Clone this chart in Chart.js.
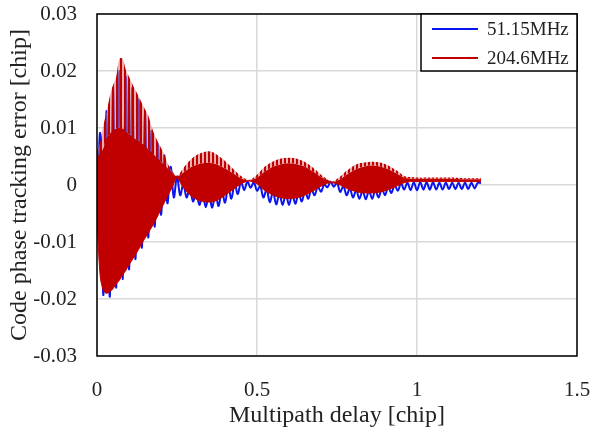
<!DOCTYPE html>
<html>
<head>
<meta charset="utf-8">
<script src="https://cdn.jsdelivr.net/npm/chart.js@4.4.1/dist/chart.umd.min.js"></script>
<style>
  html, body { margin: 0; padding: 0; background: #fff; }
  #wrap { width: 595px; height: 430px; }
</style>
</head>
<body>
<div id="wrap"><canvas id="errChart"></canvas></div>
<script>
// tick labels
const xTicks = [0, 0.5, 1, 1.5];
const yTicks = [-0.03, -0.02, -0.01, 0, 0.01, 0.02, 0.03];

// 51.15MHz: one value every 0.01 chip (troughs / peaks of the wiggle)
const blueStep = 0.01;
const blueY = [
  -0.006, 0.009, -0.0193, 0.013, -0.0196, 0.017, -0.018, 0.02, -0.0165, 0.019,
  -0.0148, 0.017, -0.013, 0.015, -0.011, 0.0125, -0.0092, 0.0095, -0.0073, 0.0072,
  -0.0052, 0.0052, -0.0032, 0.0032, -0.0022, 0.0015, -0.0018, 0.0002, -0.0022, -0.0005,
  -0.0029, -0.0012, -0.0035, -0.0015, -0.0039, -0.0016, -0.004, -0.0014, -0.0037, -0.0009,
  -0.0031, -0.0003, -0.0024, 0.0003, -0.0016, 0.0006, -0.0009, 0.0006, -0.0005, 0.0005,
  -0.001, -0.0002, -0.0022, -0.0008, -0.003, -0.0012, -0.0034, -0.0015, -0.0035, -0.0016,
  -0.0035, -0.0016, -0.0033, -0.0014, -0.0029, -0.001, -0.0024, -0.0007, -0.0018, -0.0003,
  -0.0012, 0.0001, -0.0004, 0.0006, -0.0003, 0.0004, -0.0012, -0.0002, -0.0018, -0.0006,
  -0.0022, -0.0009, -0.0024, -0.001, -0.0025, -0.001, -0.0024, -0.0009, -0.0022, -0.0006,
  -0.0018, -0.0003, -0.0014, 0.0, -0.001, 0.0003, -0.0008, 0.0004, -0.0009, 0.0005,
  -0.0009, 0.0005, -0.0008, 0.0005, -0.0008, 0.0005, -0.0008, 0.0004, -0.0008, 0.0004,
  -0.0007, 0.0004, -0.0007, 0.0004, -0.0007, 0.0004, -0.0007, 0.0004, -0.0006, 0.0004,
  0.0003
];

// 204.6MHz: too dense to trace, so kept as its envelope
const redX = [
  0, 0.01, 0.02, 0.03, 0.045, 0.06, 0.07, 0.08, 0.09, 0.1, 0.115, 0.13, 0.145, 0.16, 0.175, 0.19, 0.205, 0.22, 0.235, 0.25,
  0.27, 0.29, 0.31, 0.33, 0.35, 0.37, 0.39, 0.41, 0.43, 0.45, 0.475,
  0.5, 0.52, 0.54, 0.56, 0.58, 0.6, 0.62, 0.64, 0.66, 0.68, 0.7, 0.72, 0.735,
  0.76, 0.78, 0.8, 0.82, 0.84, 0.86, 0.88, 0.9, 0.92, 0.94, 0.96, 0.98, 1.0,
  1.05, 1.1, 1.15, 1.2
];
const redTop = [   // tips of the spikes
  0.006, 0.0075, 0.0105, 0.0128, 0.0167, 0.019, 0.0222, 0.0222, 0.0202, 0.019, 0.0172, 0.0156, 0.0138, 0.0122, 0.0095, 0.0076, 0.006, 0.0039, 0.0024, 0.0016,
  0.003, 0.0043, 0.0052, 0.0057, 0.0059, 0.0055, 0.0047, 0.0037, 0.0026, 0.0016, 0.0009,
  0.0018, 0.003, 0.0038, 0.0044, 0.0047, 0.0048, 0.0047, 0.0043, 0.0037, 0.0028, 0.0018, 0.001, 0.0006,
  0.0015, 0.0025, 0.0033, 0.0038, 0.004, 0.0041, 0.004, 0.0037, 0.0031, 0.0024, 0.0016, 0.0014, 0.0013,
  0.0013, 0.0013, 0.0012, 0.0012
];
const redInner = [ // top of the solid part
  0.005, 0.0055, 0.0065, 0.0082, 0.0093, 0.0099, 0.01, 0.0099, 0.0094, 0.0089, 0.0083, 0.0077, 0.0071, 0.0063, 0.0055, 0.0047, 0.0038, 0.003, 0.0022, 0.0015,
  0.0022, 0.003, 0.0035, 0.0038, 0.0039, 0.0037, 0.0032, 0.0026, 0.0019, 0.0012, 0.0008,
  0.0013, 0.0022, 0.0029, 0.0034, 0.0037, 0.0038, 0.0037, 0.0034, 0.0029, 0.0022, 0.0014, 0.0009, 0.0005,
  0.001, 0.0018, 0.0025, 0.003, 0.0033, 0.0034, 0.0033, 0.003, 0.0025, 0.0019, 0.0013, 0.0011, 0.0011,
  0.0011, 0.0011, 0.001, 0.001
];
const redBottom = [
  -0.006, -0.016, -0.0185, -0.019, -0.0185, -0.0174, -0.0167, -0.0158, -0.015, -0.014, -0.0127, -0.0113, -0.0098, -0.0084, -0.007, -0.0054, -0.0037, -0.002, -0.0004, 0.0012,
  -0.0005, -0.0017, -0.0025, -0.0029, -0.003, -0.0028, -0.0022, -0.0014, -0.0006, 0.0002, 0.0007,
  0.0002, -0.0008, -0.0015, -0.002, -0.0023, -0.0024, -0.0023, -0.002, -0.0015, -0.0009, -0.0002, 0.0003, 0.0004,
  0.0, -0.0006, -0.001, -0.0013, -0.0014, -0.0014, -0.0013, -0.001, -0.0006, -0.0001, 0.0004, 0.0006, 0.0006,
  0.0006, 0.0006, 0.0006, 0.0006
];

const BLUE = '#0a14f0';
const RED = '#c00000';
const FONT = "'Liberation Serif', 'Times New Roman', serif";

const pts = (xs, ys) => ys.map((y, i) => ({ x: xs[i], y }));

// thin vertical stripes for the spiky band
function stripes() {
  const c = document.createElement('canvas');
  c.width = 4; c.height = 1;
  const g = c.getContext('2d');
  g.fillStyle = 'rgba(215,110,110,0.55)';
  g.fillRect(0, 0, 4, 1);
  g.fillStyle = RED;
  g.fillRect(0, 0, 2, 1);
  return g.createPattern(c, 'repeat');
}

const legendItems = [
  { text: '51.15MHz', color: BLUE },
  { text: '204.6MHz', color: RED }
];

// plot frame + legend box in the top right corner
const framePlugin = {
  id: 'frame',
  afterDraw(chart) {
    const { ctx, chartArea: a } = chart;
    ctx.save();
    ctx.strokeStyle = '#000';
    ctx.lineWidth = 1.5;
    ctx.strokeRect(a.left, a.top, a.right - a.left, a.bottom - a.top);

    const bw = 156, bh = 57;
    const bx = a.right - bw, by = a.top;
    ctx.fillStyle = '#fff';
    ctx.fillRect(bx, by, bw, bh);
    ctx.strokeRect(bx, by, bw, bh);

    ctx.font = '19px ' + FONT;
    ctx.textBaseline = 'middle';
    legendItems.forEach((it, k) => {
      const y = by + 15 + k * 29;
      ctx.strokeStyle = it.color;
      ctx.lineWidth = 2;
      ctx.beginPath();
      ctx.moveTo(bx + 11, y);
      ctx.lineTo(bx + 57, y);
      ctx.stroke();
      ctx.fillStyle = '#222';
      ctx.fillText(it.text, bx + 66, y + 1);
    });
    ctx.restore();
  }
};

new Chart(document.getElementById('errChart'), {
  type: 'line',
  data: {
    datasets: [
      { label: '204.6MHz', data: pts(redX, redTop), borderColor: 'transparent', backgroundColor: stripes(), fill: '+1', pointRadius: 0, tension: 0.3 },
      { label: '204.6MHz inner', data: pts(redX, redInner), borderColor: 'transparent', backgroundColor: RED, fill: '+1', pointRadius: 0, tension: 0.3 },
      { label: '204.6MHz bottom', data: pts(redX, redBottom), borderColor: RED, borderWidth: 1, fill: false, pointRadius: 0, tension: 0.3 },
      { label: '51.15MHz', data: blueY.map((y, i) => ({ x: i * blueStep, y })), borderColor: BLUE, borderWidth: 2, fill: false, pointRadius: 0, tension: 0.35 }
    ]
  },
  options: {
    responsive: true,
    maintainAspectRatio: false,
    animation: false,
    layout: { padding: { top: 14, right: 18, left: 0, bottom: 0 } },
    plugins: { legend: { display: false }, tooltip: { enabled: false } },
    scales: {
      x: {
        type: 'linear', min: 0, max: 1.5,
        afterBuildTicks: s => { s.ticks = xTicks.map(v => ({ value: v })); },
        afterFit: s => { s.height = 74; s.paddingLeft = 0; s.paddingRight = 0; },
        grid: { color: '#d9d9d9', lineWidth: 1.5, drawTicks: false },
        border: { display: false },
        ticks: { padding: 22, color: '#222', font: { family: FONT, size: 21 }, maxRotation: 0,
          callback: v => String(+v.toFixed(1)) },
        title: { display: true, text: 'Multipath delay [chip]', color: '#222', font: { family: FONT, size: 24 },
          padding: { top: 4, bottom: 0 } }
      },
      y: {
        min: -0.03, max: 0.03,
        afterBuildTicks: s => { s.ticks = yTicks.map(v => ({ value: v })); },
        afterFit: s => { s.width = 97; s.paddingTop = 0; s.paddingBottom = 0; },
        grid: { color: '#d9d9d9', lineWidth: 1.5, drawTicks: false },
        border: { display: false },
        ticks: { padding: 20, color: '#222', font: { family: FONT, size: 21 },
          callback: v => Math.abs(v) < 1e-9 ? '0' : v.toFixed(2) },
        title: { display: true, text: 'Code phase tracking error [chip]', color: '#222', font: { family: FONT, size: 24 },
          padding: { top: 5, bottom: 4 } }
      }
    }
  },
  plugins: [framePlugin]
});
</script>
</body>
</html>
